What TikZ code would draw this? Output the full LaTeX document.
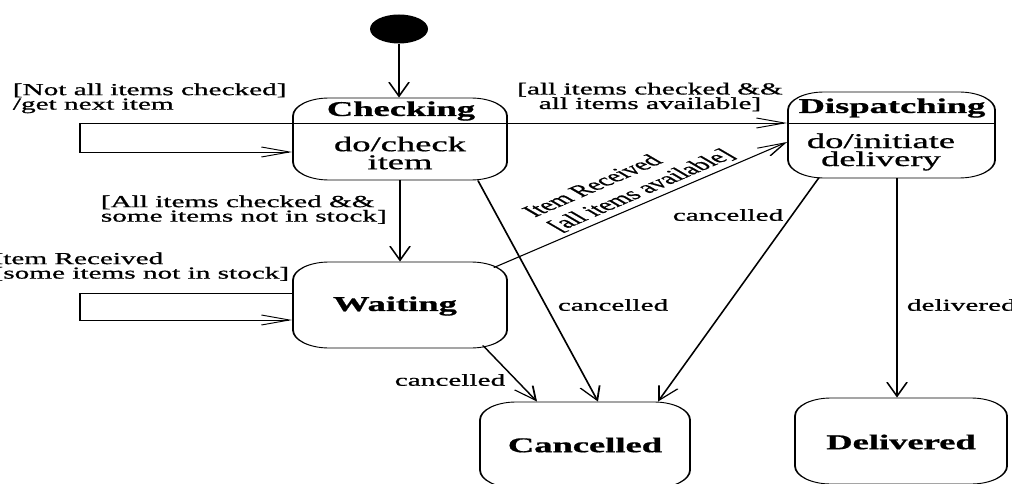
\documentclass[tikz,border=0pt]{standalone}
\usepackage{fontspec}
\setmainfont{Liberation Serif}[FakeStretch=0.87, FakeBold=0.7]
\usetikzlibrary{arrows.meta,calc}

\tikzset{
  every picture/.style={line width=0.9pt},
  arr/.style={-{Straight Barb[length=14pt,width=10pt,line width=0.9pt]}},
  statebox/.style={draw, rounded corners=18pt, inner sep=0pt},
  title/.style={font=\fontsize{21}{22}\selectfont\bfseries, inner sep=0pt},
  body/.style={font=\fontsize{21}{18}\selectfont, align=center, inner sep=0pt},
  lbl/.style={font=\fontsize{16.8}{14.5}\selectfont, inner sep=0pt},
}

\begin{document}
\begin{tikzpicture}
\useasboundingbox (0,0) rectangle (1012pt,-484pt);
% the chart is laid out on a grid that is widened twice horizontally
\begin{scope}[x=0.5pt, y=-1pt, transform canvas={xscale=2}]

% states
\node[circle, fill=black, minimum size=29pt, inner sep=0pt] (init) at (399,29) {};
\node[statebox, minimum width=107pt, minimum height=82pt] (chk) at (400,139) {};
\node[statebox, minimum width=103.5pt, minimum height=86pt] (disp) at (891.5,135) {};
\node[statebox, minimum width=107pt, minimum height=86pt] (wait) at (400,305) {};
\node[statebox, minimum width=105pt, minimum height=86pt] (canc) at (585,445) {};
\node[statebox, minimum width=106pt, minimum height=86pt] (deliv) at (901,441) {};

% state texts
\node[title] (chk-t) at (401,111) {Checking};
\node[body] (chk-b) at (400,153) {do/check\\item};
\node[title] (disp-t) at (892,108) {Dispatching};
\node[body] (disp-b) at (881,152) {do/initiate\\delivery};
\node[title] (wait-t) at (395,306) {Waiting};
\node[title] (canc-t) at (585,445) {Cancelled};
\node[title] (deliv-t) at (901,442) {Delivered};

% helper coordinates for the orthogonal routes
\coordinate (divy) at (0,123);
\coordinate (loopA) at (80,123);
\coordinate (loopB) at (80,152);
\coordinate (loopC) at (80,293);
\coordinate (loopD) at (80,320);
\coordinate (dvx) at (897,0);

% compartment lines
\draw (chk.west |- divy) -- (chk.east |- divy);
\draw (disp.west |- divy) -- (disp.east |- divy);

% transitions
\draw[arr] (init.south) -- (init.south |- chk.north);
\draw[arr] (chk.west |- loopA) -- (loopA) -- (loopB) -- (chk.west |- loopB);
\draw[arr] (chk.east |- divy) -- (disp.west |- divy);
\draw[arr] (chk.south) -- (wait.north);
\draw[arr] (wait.west |- loopC) -- (loopC) -- (loopD) -- (wait.west |- loopD);
\draw[arr] ($(wait.north east)+(-14,6)$) --
  node[lbl, font=\fontsize{16.8}{19}\selectfont, pos=0.55, sloped, above=3pt, align=left] (l5) {Item Received\\{[}all items available{]}}
  ($(disp.west)+(0,7)$);
\draw[arr] ($(chk.south east)+(-30,0)$) -- ($(canc.north)+(13,0)$);
\draw[arr] ($(wait.south east)+(-25,-3)$) -- ($(canc.north)+(-48,0)$);
\draw[arr] ($(disp.south west)+(32,-1)$) -- ($(canc.north)+(73,0)$);
\draw[arr] (dvx |- disp.south) -- (dvx |- deliv.north);

% guard and event labels
\node[lbl, align=left, anchor=north west] (l1) at (12,83) {[Not all items checked]\\/get next item};
\node[lbl, align=center] (l2) at (650,97) {[all items checked \&\&\\all items available]};
\node[lbl, align=left, anchor=north west] (l3) at (100,195) {[All items checked \&\&\\some items not in stock]};
\node[lbl, align=left, anchor=north east] (l4) at (290,252) {Item Received\\{[}some items not in stock{]}};
\node[lbl] (c1) at (450,380) {cancelled};
\node[lbl] (c2) at (613,305) {cancelled};
\node[lbl] (c3) at (728,215) {cancelled};
\node[lbl, anchor=west] (dl) at (906,305) {delivered};

\end{scope}
\end{tikzpicture}
\end{document}
